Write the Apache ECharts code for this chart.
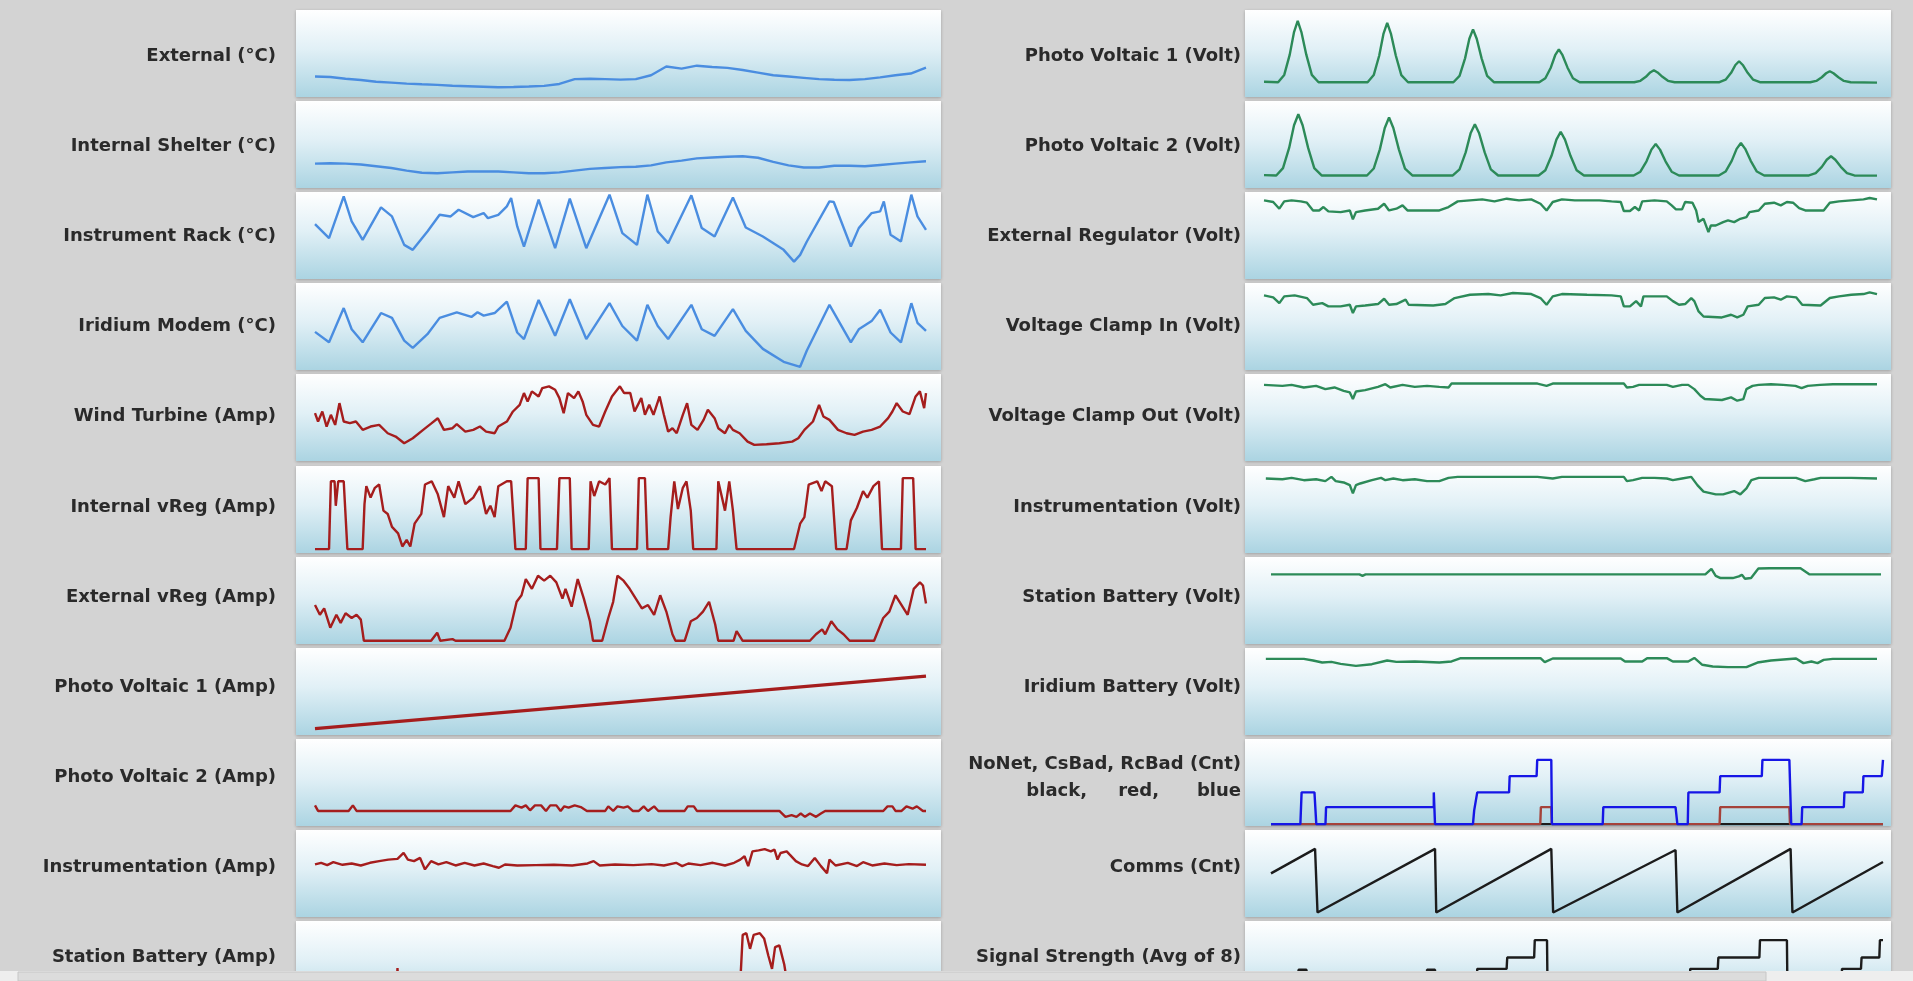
<!DOCTYPE html>
<html><head><meta charset="utf-8">
<script src="https://cdn.jsdelivr.net/npm/echarts@6/dist/echarts.min.js"></script>
<style>html,body{margin:0;padding:0;background:#d3d3d3;overflow:hidden}#c{width:1913px;height:981px}</style>
</head><body><div id="c"></div>
<script>
// ---- labels ----
const leftLabels = ['External (°C)','Internal Shelter (°C)','Instrument Rack (°C)','Iridium Modem (°C)','Wind Turbine (Amp)','Internal vReg (Amp)','External vReg (Amp)','Photo Voltaic 1 (Amp)','Photo Voltaic 2 (Amp)','Instrumentation (Amp)','Station Battery (Amp)'];
const rightLabels = ['Photo Voltaic 1 (Volt)','Photo Voltaic 2 (Volt)','External Regulator (Volt)','Voltage Clamp In (Volt)','Voltage Clamp Out (Volt)','Instrumentation (Volt)','Station Battery (Volt)','Iridium Battery (Volt)','NoNet, CsBad, RcBad (Cnt)','Comms (Cnt)','Signal Strength (Avg of 8)'];
const countLegendWords = ['black,','red,','blue'];

// ---- series values: relative level (0-100 of panel range); plain arrays are evenly spaced in time, pairs are [time %, level] ----
const externalTemp = [23.6,23,21,19.5,17.6,16.5,15.4,14.6,13.9,13,12.4,11.8,11.2,11.5,12,12.8,15,20.5,21,20.6,20,20.5,25,35,32.6,36,34.5,33.5,31,28,25,23.5,22,20.5,19.8,19.5,20.5,22.5,25,27,33.7];
const internalShelter = [28,28.5,28,27,25,23,20,17.5,17,18,19,19,19,18,17,17,18,20,22,23,24,24.5,26,29.5,31.5,34,35,36,36.5,34.8,30,26,23.5,23.5,25.5,25.5,25,26.5,28,29.5,30.8];
const instrumentRack = [[0,63.1],[2.3,46.9],[4.7,95],[6,66.2],[7.8,45],[10.8,82.3],[12.6,71.9],[14.6,39.2],[16,33.5],[18.4,54.6],[20.4,73.8],[22.2,71.9],[23.5,79.6],[25.9,71.2],[27.6,75.8],[28.3,70],[30,73.8],[31.4,83.5],[32.1,93.1],[33.1,60.4],[34.2,37.3],[36.6,91.2],[39.3,35.4],[41.7,92.3],[44.4,35.4],[48.2,96.9],[50.3,52.7],[52.7,39.2],[54.4,96.9],[56.1,54.6],[57.8,41.2],[61.6,96.2],[63.3,58.5],[65.4,48.8],[68.4,93.8],[70.5,59.2],[73.3,48.8],[76.7,33.5],[78.4,20],[79.4,27.7],[80.5,43.1],[84.2,89.2],[84.9,88.5],[87.7,37.3],[89,58.5],[91.1,75.8],[92.5,77.7],[93.1,89.2],[94.2,50.8],[95.9,43.1],[97.6,96.9],[98.6,71.9],[100,56.5]];
const iridiumModem = [[0,43.8],[2.3,31.8],[4.7,71.2],[6,46.8],[7.8,31.8],[10.8,65.5],[12.6,59.9],[14.6,33.7],[16,25.5],[18.4,41.2],[20.4,59.9],[23.2,66.3],[25.6,61],[26.6,66.3],[27.6,62.5],[29.4,65.5],[31.4,78.7],[33.1,43.1],[34.2,35.6],[36.6,80.5],[39.3,39.3],[41.7,81.3],[44.4,35.6],[48.2,76.8],[50.3,50.6],[52.7,33.7],[54.4,74.9],[56.1,50.6],[57.8,35.6],[61.6,74.9],[63.3,46.8],[65.4,39.3],[68.4,70],[70.5,44.9],[73.3,24.3],[76.7,9.4],[79.4,3.7],[80.5,22.5],[84.2,74.9],[87.7,31.8],[89,46.8],[91.1,56.2],[92.5,69.3],[94.2,43.1],[95.9,31.8],[97.6,76.8],[98.6,54.3],[100,44.9]];
const windTurbine = [[0,55],[0.5,45.4],[1.2,56.9],[1.9,39.6],[2.6,53.1],[3.3,41.5],[4,66.5],[4.7,45.4],[5.7,43.5],[6.7,45.4],[7.8,35.8],[9.1,39.6],[10.5,41.5],[11.9,31.9],[13.2,28.1],[14.6,20.4],[16,26.2],[17.7,35.8],[19.1,43.5],[20.1,49.2],[21.1,35.8],[22.5,37.7],[23.2,42.3],[24.6,33.8],[25.9,35.8],[27,39.6],[28,33.8],[29.4,31.9],[30,39.6],[31.4,45.4],[32.4,56.9],[33.5,64.6],[34.2,78.1],[34.8,68.5],[35.5,80],[36.6,74.2],[37.2,83.8],[38.3,85.8],[39.3,81.9],[40,72.3],[40.7,55],[41.4,78.1],[42.4,72.3],[43.1,80],[43.8,68.5],[44.4,53.1],[45.5,41.5],[46.5,39.6],[47.5,56.9],[48.6,74.2],[49.9,85.8],[50.6,78.1],[51.6,78.1],[52.3,56.9],[53.4,72.3],[54,53.1],[54.7,64.6],[55.4,53.1],[56.4,74.2],[57.1,53.1],[57.8,33.8],[58.5,37.7],[59.2,31.9],[60.2,53.1],[60.9,66.5],[61.6,41.5],[62.6,35.8],[63.6,47.3],[64.3,58.8],[65.4,49.2],[66,37.7],[67.1,31.9],[67.8,41.5],[68.4,35.8],[69.5,31.9],[70.8,22.3],[71.9,18.5],[73.9,19.2],[76,20.4],[78.1,22.3],[79.1,26.2],[80.1,35.8],[81.5,45.4],[82.5,64.6],[83.2,51.2],[84.2,47.3],[85.6,35.8],[87,31.9],[88.3,30],[89.7,33.8],[91.1,35.8],[92.5,39.6],[93.8,49.2],[94.5,56.9],[95.2,66.5],[96.2,56.9],[97.3,53.8],[98.3,74.2],[99,80],[99.7,60.8],[100,78.1]];
const internalVReg = [[0,4.5],[2.3,4.5],[2.6,82.4],[3.2,82.4],[3.4,54.3],[3.8,82.4],[4.7,82.4],[5.3,4.5],[7.8,4.5],[8.1,56.2],[8.4,76.8],[9.1,63.7],[9.8,74.9],[10.5,78.7],[11.2,48.7],[11.9,44.9],[12.6,30],[13.6,22.5],[14.3,7.5],[15,15],[15.6,7.5],[16.3,33.7],[17.4,44.9],[18,78.7],[19.1,82.4],[20.1,67.4],[21.1,41.2],[21.8,76.8],[22.8,63.7],[23.5,82.4],[24.6,56.2],[25.9,63.7],[27,76.8],[28,44.9],[28.7,54.3],[29.4,41.2],[30,76.8],[31.4,82.4],[32.1,82.4],[32.8,4.5],[34.5,4.5],[34.8,86.1],[36.6,86.1],[36.9,4.5],[39.6,4.5],[40,86.1],[41.7,86.1],[42,4.5],[44.8,4.5],[45.1,82.4],[45.7,65.5],[46.5,82.4],[47.5,78.7],[48.2,86.1],[48.6,4.5],[52.7,4.5],[53,86.1],[54,86.1],[54.4,4.5],[57.8,4.5],[58.2,41.2],[58.8,82.4],[59.4,50.6],[60.2,74.9],[60.8,82.4],[61.5,48.7],[61.9,4.5],[65.7,4.5],[66,82.4],[67.1,48.7],[67.8,82.4],[68.4,48.7],[69,4.5],[78.4,4.5],[79.4,33.7],[80.1,41.2],[80.8,78.7],[82.2,82.4],[82.9,71.2],[83.5,82.4],[84.6,76.8],[85.3,4.5],[87,4.5],[87.7,37.5],[88.7,52],[89.7,71.2],[90.4,63.7],[91.4,76.8],[92.3,82.4],[92.8,4.5],[95.9,4.5],[96.2,86.1],[97.9,86.1],[98.3,4.5],[100,4.5]];
const externalVReg = [[0,44.8],[0.8,33.6],[1.5,41],[2.5,18.7],[3.5,33.6],[4.2,24.3],[5,35.4],[6,29.9],[6.8,33.6],[7.5,28],[8,3.7],[19,3.7],[20,13],[20.5,3.7],[22.5,5.6],[23,3.7],[31,3.7],[32,18.7],[33,48.5],[33.8,56],[34.5,74.6],[35.5,63.4],[36.5,78.4],[37.5,72.8],[38.5,78.4],[39.5,70.9],[40.5,52.2],[41,63.4],[42,42.9],[43,74.6],[44,52.2],[45,26.1],[45.5,3.7],[47,3.7],[48,29.9],[48.8,48.5],[49.5,78.4],[50.5,72.8],[51.5,63.4],[52.5,52.2],[53.5,41],[54.5,44.8],[55.5,33.6],[56.5,56],[57.5,37.3],[58.5,11.2],[59,3.7],[60.5,3.7],[61.5,26.1],[62.5,29.9],[63.5,37.3],[64.5,48.5],[65.5,22.4],[66,3.7],[68.5,3.7],[69,14.9],[70,3.7],[81,3.7],[82,11.2],[83,16.8],[83.5,11.2],[84.5,26.1],[85.5,16.8],[86.5,11.2],[87.5,3.7],[91.5,3.7],[93,29.9],[94,37.3],[95,56],[96,44.8],[97,33.6],[98,63.4],[99,70.9],[99.5,67.2],[100,46.6]];
const pv1Amp = [[0,7.4],[100,67.7]];
const pv2Amp = [[0,23.7],[0.5,17.3],[5.5,17.3],[6.2,23.7],[6.8,17.3],[32,17.3],[32.8,23.7],[33.8,21.1],[34.5,23.7],[35.2,18],[36,23.7],[37,23.7],[37.8,17.3],[38.5,23.7],[39.5,23.7],[40.2,17.3],[40.8,22.6],[41.5,21.1],[42.5,23.7],[43.5,21.8],[44.5,17.3],[47.5,17.3],[48,22.6],[48.8,17.3],[49.5,22.6],[50.5,21.1],[51.2,22.6],[52,17.3],[53,17.3],[53.8,22.6],[54.5,17.3],[55.5,22.6],[56.2,17.3],[60.5,17.3],[61,22.6],[62,22.6],[62.5,17.3],[76,17.3],[77,10.5],[78,12.4],[78.8,10.5],[79.5,14.3],[80.2,10.5],[81,14.3],[82,10.5],[82.8,14.3],[83.5,17.3],[93,17.3],[93.7,22.6],[94.5,22.6],[95,17.3],[96,17.3],[96.8,22.6],[97.8,19.9],[98.5,22.6],[99.5,17.3],[100,17.3]];
const instrumentationAmp = [[0,60.4],[1,62.3],[2,59.6],[3,63],[4.5,60],[6,61.5],[7.5,59.2],[9,62.3],[10.5,64.2],[12,66],[13.5,66.8],[14.5,73.6],[15.2,66],[16.2,64.2],[17.2,67.9],[18,54.7],[19,64.2],[20.2,60.4],[21.5,63],[23,59.2],[24.5,62.3],[26.1,59.2],[27.6,61.5],[29.1,58.5],[30.1,56.6],[31.1,60.4],[33.1,59.2],[36.1,59.6],[39.1,60],[42.1,59.2],[44.6,61.5],[45.6,64.2],[46.6,59.2],[49.1,60.4],[52.1,59.6],[55.1,60.8],[57.1,59.2],[59.1,62.3],[60.1,58.5],[61.1,61.5],[63.1,59.6],[65.1,62.3],[67.1,59.2],[68.6,62.3],[69.6,66],[70.3,69.8],[70.9,58.5],[71.6,75.5],[72.6,76.6],[73.6,78.1],[74.6,75.5],[75.2,77.4],[75.7,66],[76.2,73.6],[77.2,75.5],[77.7,71.7],[78.7,64.2],[79.7,60.4],[80.7,58.5],[81.8,67.9],[82.8,58.5],[83.8,50.2],[84.2,66],[85.2,59.2],[87.2,62.3],[88.7,58.5],[89.7,63],[91.2,59.2],[93.2,61.5],[95.2,59.6],[97.2,60.8],[100,60]];
const stationBatteryAmp = [[0,15],[13.3,15],[13.5,46],[13.7,15],[69.5,15],[70,84],[70.6,86],[71.2,68],[71.8,84],[72.8,86],[73.5,80],[74.2,60],[74.8,45],[75.3,70],[76,72],[76.8,50],[77.6,15],[100,15]];

const pv1Volt = [[0,17.5],[2.3,17],[3.3,25.4],[4.2,48.7],[4.9,74.7],[5.5,87.4],[6.1,74.7],[6.9,48.7],[7.8,25.4],[8.9,17],[16.9,17],[17.9,25.2],[18.8,47.7],[19.5,72.9],[20.1,85.2],[20.7,72.9],[21.5,47.7],[22.4,25.2],[23.5,17],[30.9,17],[31.9,24.3],[32.8,44.4],[33.5,66.9],[34.1,77.8],[34.7,66.9],[35.5,44.4],[36.4,24.3],[37.5,17],[44.9,17],[45.9,21.5],[46.8,34],[47.5,48],[48.1,54.8],[48.7,48],[49.5,34],[50.4,21.5],[51.5,17],[60.4,17],[61.4,18.6],[62.3,23.2],[63,28.2],[63.6,30.7],[64.2,28.2],[65,23.2],[65.9,18.6],[67,17],[74.3,17],[75.3,19.9],[76.2,27.8],[76.9,36.8],[77.5,41.1],[78.1,36.8],[78.9,27.8],[79.8,19.9],[80.9,17],[89.1,17],[90.1,18.5],[91,22.7],[91.7,27.3],[92.3,29.6],[92.9,27.3],[93.7,22.7],[94.6,18.5],[95.7,17],[100,16.5]];
const pv2Volt = [[0,14.8],[2,14.4],[3.1,22.8],[4.1,46.1],[4.9,72.1],[5.6,84.8],[6.3,72.1],[7.2,46.1],[8.2,22.8],[9.4,14.4],[16.8,14.4],[17.9,22.4],[18.9,44.4],[19.7,69],[20.4,81],[21.1,69],[22,44.4],[23,22.4],[24.2,14.4],[30.8,14.4],[31.9,21.5],[32.9,40.9],[33.7,62.8],[34.4,73.4],[35.1,62.8],[36,40.9],[37,21.5],[38.2,14.4],[44.8,14.4],[45.9,20.4],[46.9,37],[47.7,55.6],[48.4,64.6],[49.1,55.6],[50,37],[51,20.4],[52.2,14.4],[60.3,14.4],[61.4,18.7],[62.4,30.7],[63.2,44.1],[63.9,50.6],[64.6,44.1],[65.5,30.7],[66.5,18.7],[67.7,14.4],[74.2,14.4],[75.3,18.9],[76.3,31.2],[77.1,45],[77.8,51.7],[78.5,45],[79.4,31.2],[80.4,18.9],[81.6,14.4],[88.9,14.4],[90,17.1],[91,24.3],[91.8,32.5],[92.5,36.5],[93.2,32.5],[94.1,24.3],[95.1,17.1],[96.3,14.4],[100,14.2]];
const extRegulator = [[0,90.4],[1.5,88.5],[2.5,80.8],[3.3,89.2],[4.5,90.4],[6,89.2],[7,87.7],[8,78.8],[9,78.8],[9.7,82.7],[10.5,77.7],[12.5,76.9],[14,78.8],[14.5,68.5],[15,76.9],[16.5,78.8],[18.6,80.8],[19.6,86.5],[20.4,78.8],[21.6,80.8],[22.6,84.6],[23.4,78.8],[24.6,78.8],[26.6,78.8],[28.6,78.8],[30.1,82.7],[31.6,89.2],[33.6,90.4],[35.6,91.5],[37.6,89.2],[39.6,92.3],[41.6,90.4],[43.6,91.5],[45.1,86.5],[46.1,78.8],[47.1,88.5],[48.6,91.5],[50.7,90.4],[52.7,90.4],[54.7,90.4],[56.7,89.2],[58.2,88.5],[58.7,78.1],[59.7,78.1],[60.5,82.7],[61.2,78.8],[61.7,89.2],[63.7,90.4],[65.7,89.2],[66.5,84.6],[67.2,80],[68.2,80],[68.7,88.5],[69.9,87.7],[70.5,78.8],[70.9,65.4],[71.7,69.2],[72.5,53.8],[72.9,61.5],[73.7,61.5],[74.9,65.4],[75.7,67.3],[76.7,65.4],[77.7,69.2],[78.7,71.2],[79.2,76.9],[80.7,78.8],[81.7,86.5],[83.2,87.7],[84.3,84.6],[85.3,88.5],[86.3,87.7],[87.3,81.5],[88.3,78.8],[89.8,78.8],[91.3,78.8],[92.3,87.7],[93.8,89.2],[95.8,90.4],[97.8,91.5],[98.8,93.1],[100,91.5]];
const clampIn = [[0,85.8],[1.5,83.5],[2.5,76.9],[3.3,84.6],[5,85.8],[7,82.7],[8,75],[9.5,76.9],[10.5,73.1],[12.5,73.1],[14,75],[14.5,65.4],[15,73.1],[16.5,74.2],[18.6,75.8],[19.6,81.9],[20.4,75],[21.6,75.8],[23.1,80.8],[23.6,75],[27.6,74.2],[29.6,75.8],[31.1,82.7],[33.6,86.5],[36.6,87.3],[38.6,85.8],[40.6,88.5],[43.6,87.3],[45.1,82.7],[46.1,75],[47.1,84.6],[48.6,87.3],[52.7,86.5],[56.7,85.8],[58.2,84.6],[58.7,73.1],[59.7,73.1],[60.7,79.2],[61.5,73.1],[61.9,84.6],[65.7,84.6],[66.7,79.2],[67.7,75],[68.7,75.8],[69.7,82.7],[70.2,79.2],[70.9,67.3],[71.7,61.5],[74.7,60.4],[76.2,63.5],[77.2,60.4],[78.2,63.5],[78.9,73.1],[80.7,75],[81.7,82.7],[83.2,83.5],[84.3,80.8],[85.3,84.6],[86.8,83.5],[87.8,75],[90.8,74.2],[92.3,82.7],[93.8,84.6],[95.8,86.5],[97.8,87.3],[98.8,89.2],[100,87.3]];
const clampOut = [[0,87.5],[3,86.4],[4.5,87.5],[6.5,84.5],[8.5,86.4],[10,82.6],[11.5,84.5],[13,80.7],[14,78.8],[14.5,71.2],[15,79.9],[16.5,81.4],[18.6,85.2],[19.8,88.3],[20.6,84.5],[22.6,87.5],[24.6,85.2],[26.6,86.4],[28.6,85.2],[30.1,84.5],[30.6,89],[38.6,89],[44.6,89],[46.1,86.4],[47.1,89],[58.7,89],[59.2,84.5],[60.2,85.2],[61.2,87.5],[65.7,87.5],[66.7,85.2],[68.2,87.5],[69.2,87.5],[70.2,82.6],[71.2,75],[71.9,71.2],[74.7,70.1],[76.2,73.1],[77.2,69.3],[78.2,71.2],[78.7,82.6],[79.7,86.4],[80.7,87.5],[82.7,88.3],[84.7,87.5],[86.7,86.4],[87.7,83.7],[88.7,86.4],[90.7,87.5],[92.8,88.3],[100,88.3]];
const instrumentationVolt = [[0.3,85.6],[3,84.8],[4.5,86.4],[6.5,83.7],[8.5,84.8],[10,82.6],[11,87.5],[11.7,82.6],[13,81.1],[14,78],[14.5,68.6],[15,78],[15.7,79.9],[17.6,83.7],[19.1,86.4],[19.8,83.7],[21.1,85.6],[22.6,83.7],[24.6,84.8],[26.6,82.6],[28.6,82.6],[30.1,86.4],[31.6,87.5],[38.6,87.5],[44.6,87.5],[47.1,85.6],[48.6,87.5],[58.7,87.5],[59.2,82.6],[60.2,83.7],[61.7,86.4],[63.7,86.4],[65.7,85.6],[66.7,83.7],[68.2,85.6],[69.7,87.5],[70.7,78],[71.7,70.5],[73.7,67.4],[74.9,67.4],[76.7,71.2],[77.7,67.4],[78.7,74.2],[79.5,83.7],[80.7,86.4],[83.8,86.4],[86.8,86.4],[88.3,82.6],[89.8,84.8],[90.8,86.4],[95.8,86.4],[100,85.6]];
const stationBatteryVolt = [[0,80],[14.5,80],[15,78.4],[15.5,80],[71.2,80],[72.2,86.4],[72.9,78.4],[73.7,75.8],[75.7,75.8],[76.7,77.7],[77.2,79.5],[77.7,75],[78.7,75.8],[79.9,86.7],[81.7,87.1],[86.8,87.1],[88.3,80],[100,80]];
const iridiumBattery = [[0.3,87.5],[6.5,87.5],[8,85.6],[9.5,83.3],[11,84.1],[12.5,81.8],[15,79.5],[17.6,81.4],[20.1,85.6],[21.6,84.1],[24.6,84.5],[28.6,83.3],[30.6,84.5],[32.1,88.3],[38.6,88.3],[45.1,88.3],[45.8,83.7],[47.1,87.9],[54.7,87.9],[58.2,87.9],[58.9,84.5],[61.7,84.5],[62.5,88.3],[65.7,88.3],[66.7,84.5],[69.2,84.5],[70.2,88.6],[71.5,80.7],[73.2,78.8],[75.7,78],[78.7,78],[80.5,83.3],[82.7,85.6],[86.8,87.9],[88,82.6],[89.3,84.5],[90.3,82.6],[91.3,86.4],[92.8,87.5],[100,87.5]];
const noNet = [[0,2.2],[100,2.2]];
const csBad = [[0,2.2],[44,2.2],[44.1,21.7],[45.8,21.7],[45.9,2.2],[73.3,2.2],[73.4,21.7],[84.7,21.7],[84.8,2.2],[100,2.2]];
const rcBad = [[0,2.2],[4.8,2.2],[5,38.6],[7.1,38.6],[7.4,2.2],[8.9,2.2],[9,21.7],[26.6,21.7],[26.6,38.6],[26.8,2.2],[33,2.2],[33.2,18],[33.7,38.6],[38.9,38.6],[39,57.3],[43.4,57.3],[43.5,76],[45.8,76],[45.9,2.2],[54.2,2.2],[54.3,21.7],[66.1,21.7],[66.4,2.2],[68.1,2.2],[68.2,38.6],[73.3,38.6],[73.4,57.3],[80.2,57.3],[80.3,76],[84.7,76],[85,2.2],[86.7,2.2],[86.8,21.7],[93.6,21.7],[93.7,38.6],[96.7,38.6],[96.8,57.3],[99.8,57.3],[100,76]];
const comms = [[0,50.2],[7.2,78.3],[7.6,5.2],[26.8,78.3],[27,5.2],[45.8,78.3],[46.1,5.2],[66.1,77],[66.4,5.2],[84.9,78.3],[85.2,5.2],[100,63.3]];
const signalStrength = [[0,10],[4.4,10],[4.5,44],[5.8,44],[5.9,10],[25.4,10],[25.5,44],[26.8,44],[26.9,10],[33.6,10],[33.7,45],[38.5,45],[38.6,58],[43,58],[43.1,78],[45.1,78],[45.2,10],[68.4,10],[68.5,45],[73,45],[73.1,58],[79.8,58],[79.9,78],[84.3,78],[84.4,10],[93.2,10],[93.3,45],[96.4,45],[96.5,58],[99.4,58],[99.5,78],[100,78]];

// ---- styling / layout ----
const BLUE = '#4a8de0', RED = '#a51d1d', GREEN = '#2c8a58', BLACK = '#1c1c1c', NAVY = '#1616e6', BROWN = '#a5423a';
const leftSeries = [
  [{d:externalTemp,c:BLUE}],[{d:internalShelter,c:BLUE}],[{d:instrumentRack,c:BLUE}],[{d:iridiumModem,c:BLUE}],
  [{d:windTurbine,c:RED}],[{d:internalVReg,c:RED}],[{d:externalVReg,c:RED}],[{d:pv1Amp,c:RED,w:3.2}],
  [{d:pv2Amp,c:RED}],[{d:instrumentationAmp,c:RED}],[{d:stationBatteryAmp,c:RED}]
];
const rightSeries = [
  [{d:pv1Volt,c:GREEN}],[{d:pv2Volt,c:GREEN}],[{d:extRegulator,c:GREEN}],[{d:clampIn,c:GREEN}],
  [{d:clampOut,c:GREEN}],[{d:instrumentationVolt,c:GREEN}],[{d:stationBatteryVolt,c:GREEN}],[{d:iridiumBattery,c:GREEN}],
  [{d:noNet,c:BLACK},{d:csBad,c:BROWN},{d:rcBad,c:NAVY}],[{d:comms,c:BLACK}],[{d:signalStrength,c:BLACK}]
];
const W = 1913, H = 981;
const ROW_TOP = 10, ROW_STEP = 91.1, ROW_H = 87;
const LABEL_TOP = 56, LABEL_STEP = 90.1;
const COLS = [
  {panelX:296, panelW:645, lineX:315, lineW:611, labelX:276},
  {panelX:1245, panelW:646, lineX:1264, lineW:613, labelX:1241}
];
const lineOverride = {'1-6':[1271,610],'1-8':[1271,612],'1-9':[1271,612],'1-10':[1271,612]};

function pairs(arr){ return typeof arr[0] === 'number' ? arr.map((v,i)=>[i*100/(arr.length-1), v]) : arr; }

const grids=[], xAxes=[], yAxes=[], series=[], graphics=[];
const labelFont = 'bold 18px "DejaVu Sans", sans-serif';
function label(x, y, text){
  graphics.push({type:'text', z:5, x:x, y:y, style:{text:text, font:labelFont, fill:'#2a2a2a', textAlign:'right', align:'right', textVerticalAlign:'middle', verticalAlign:'middle'}});
}
[leftSeries, rightSeries].forEach((col, ci) => {
  const C = COLS[ci];
  col.forEach((panelSeries, ri) => {
    const top = Math.round(ROW_TOP + ri*ROW_STEP);
    graphics.push({type:'rect', z:0, shape:{x:C.panelX, y:top, width:C.panelW, height:ROW_H},
      style:{fill:new echarts.graphic.LinearGradient(0,0,0,1,[{offset:0,color:'#ffffff'},{offset:0.45,color:'#e1f0f6'},{offset:1,color:'#abd4e2'}]),
      shadowBlur:3, shadowColor:'rgba(0,0,0,0.25)', shadowOffsetY:1}});
    const lab = (ci===0?leftLabels:rightLabels)[ri];
    const cy = Math.round(LABEL_TOP + ri*LABEL_STEP);
    if (ci===1 && ri===8) {
      label(C.labelX, cy-13, lab);
      const rights = [C.labelX-154, C.labelX-82, C.labelX];
      countLegendWords.forEach((w,k)=>label(rights[k], cy+14, w));
    } else {
      label(C.labelX, cy, lab);
    }
    // a panel cut by the window bottom keeps the same vertical scale
    const visH = Math.min(ROW_H, H - top);
    const yMin = 100*(1 - visH/ROW_H);
    const ov = lineOverride[ci+'-'+ri];
    const gi = grids.length;
    grids.push({left: ov?ov[0]:C.lineX, width: ov?ov[1]:C.lineW, top: top, height: visH, containLabel:false, show:false});
    xAxes.push({type:'value', gridIndex:gi, min:0, max:100, show:false});
    yAxes.push({type:'value', gridIndex:gi, min:yMin, max:100, show:false});
    panelSeries.forEach(s => series.push({type:'line', xAxisIndex:gi, yAxisIndex:gi, data:pairs(s.d), symbol:'none', z:3, clip:true,
      lineStyle:{color:s.c, width:s.w||2.4}, itemStyle:{color:s.c}, emphasis:{disabled:true}, silent:true}));
  });
});
// bottom scroll bar
graphics.push({type:'rect', z:50, shape:{x:0, y:971, width:W, height:10}, style:{fill:'#eeeeee'}});
graphics.push({type:'rect', z:51, shape:{x:18, y:972, width:1748, height:9}, style:{fill:'#dcdcdc', stroke:'#c6c6c6', lineWidth:1}});

const chart = echarts.init(document.getElementById('c'), null, {renderer:'canvas', width:W, height:H});
chart.setOption({animation:false, backgroundColor:'#d3d3d3', grid:grids, xAxis:xAxes, yAxis:yAxes, series:series, graphic:{elements:graphics}, tooltip:{show:false}});
</script></body></html>
